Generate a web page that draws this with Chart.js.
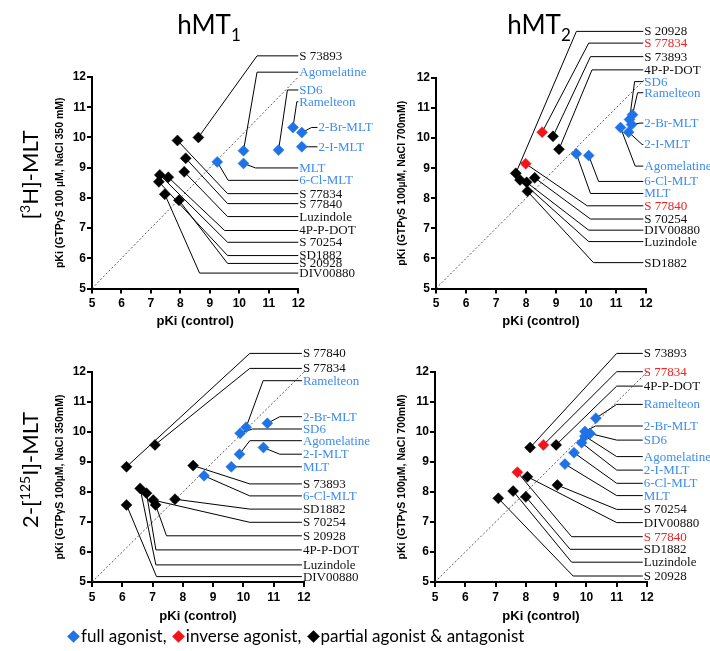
<!DOCTYPE html>
<html>
<head>
<meta charset="utf-8">
<script src="https://cdn.jsdelivr.net/npm/chart.js@4.4.1/dist/chart.umd.min.js"></script>
<style>
html,body{margin:0;padding:0;background:#fff;}
#wrap{position:relative;width:710px;height:651px;overflow:hidden;font-family:Lato,"Open Sans",sans-serif;color:#000;}
#wrap canvas{position:absolute;left:0;top:0;}
.coltitle{position:absolute;font-size:26px;white-space:nowrap;transform:translateX(-50%);line-height:1;}
.coltitle sub{font-size:17px;vertical-align:-7px;line-height:0;}
.rowtitle{position:absolute;font-size:22px;white-space:nowrap;transform:translate(-50%,-50%) rotate(-90deg);line-height:1;}
.rowtitle sup{font-size:14px;vertical-align:8px;line-height:0;}
.legend{position:absolute;left:66px;top:626px;font-size:17px;white-space:nowrap;line-height:20px;}
.dia{display:inline-block;width:9px;height:9px;transform:rotate(45deg);margin:0 3px 1px 3px;}
</style>
</head>
<body>
<div id="wrap">
  <canvas id="c1" width="710" height="651"></canvas>
  <canvas id="c2" width="710" height="651"></canvas>
  <canvas id="c3" width="710" height="651"></canvas>
  <canvas id="c4" width="710" height="651"></canvas>
  <div class="coltitle" style="left:209px;top:11px;">hMT<sub>1</sub></div>
  <div class="coltitle" style="left:539px;top:11px;">hMT<sub>2</sub></div>
  <div class="rowtitle" style="left:30px;top:175px;">[<sup>3</sup>H]-MLT</div>
  <div class="rowtitle" style="left:30px;top:470px;">2-[<sup>125</sup>I]-MLT</div>
  <div class="legend"><span class="dia" style="background:#1f73e6"></span>full agonist, <span class="dia" style="background:#f2141b"></span>inverse agonist, <span class="dia" style="background:#000"></span>partial agonist &amp; antagonist</div>
</div>
<script>
// ---------------- DATA ----------------
const compounds = ['MLT','2-I-MLT','2-Br-MLT','6-Cl-MLT','Agomelatine','Ramelteon','SD6','S 73893','S 77834','S 77840','Luzindole','4P-P-DOT','S 70254','SD1882','S 20928','DIV00880'];
const kindMT1 = ['full','full','full','full','full','full','full','partial','partial','partial','partial','partial','partial','partial','partial','partial'];
const kindMT2 = ['full','full','full','full','full','full','full','partial','inverse','inverse','partial','partial','partial','partial','partial','partial'];

// hMT1, [3H]-MLT, NaCl 350 mM
const mt1H3Control = [10.14,12.12,12.12,9.25,10.14,11.82,11.33,8.61,7.90,8.18,8.13,7.59,7.30,7.27,7.95,7.47];
const mt1H3Gtp     = [9.14,9.69,10.16,9.19,9.56,10.33,9.58,10.00,9.90,9.31,8.86,8.68,8.76,8.53,7.92,8.12];
// hMT2, [3H]-MLT, NaCl 700 mM
const mt2H3Control = [9.68,11.42,11.52,10.09,11.15,11.55,11.45,8.90,8.54,7.99,7.80,9.10,8.29,8.05,7.66,8.02];
const mt2H3Gtp     = [9.48,10.20,10.45,9.42,10.35,10.78,10.62,10.06,10.20,9.15,8.61,9.63,8.68,8.23,8.83,8.53];
// hMT1, 2-[125I]-MLT, NaCl 350 mM
const mt1I125Control = [9.60,10.66,10.79,8.70,9.87,10.09,9.89,8.34,7.08,6.14,6.59,6.80,7.02,7.74,7.10,6.14];
const mt1I125Gtp     = [8.84,9.48,10.29,8.54,9.26,10.16,9.96,8.88,9.57,8.84,8.12,7.96,7.73,7.76,7.57,7.57];
// hMT2, 2-[125I]-MLT, NaCl 700 mM
const mt2I125Control = [9.29,9.84,9.95,9.59,9.95,10.31,10.12,8.14,8.58,7.72,7.58,9.00,9.04,8.00,7.09,8.05];
const mt2I125Gtp     = [8.93,9.64,10.02,9.31,9.86,10.46,9.95,9.48,9.57,8.66,8.03,9.57,8.23,7.84,7.79,8.51];

const axisTicks = [5,6,7,8,9,10,11,12];

// ---------------- LABEL LAYOUT (data units) ----------------
const p1LabelY = [8.99,9.69,10.33,8.58,12.16,11.18,11.57,12.70,8.14,7.81,7.38,6.92,6.53,6.09,5.83,5.51];
const p1ElbowX = [10.55,12.35,12.45,9.62,10.6,11.95,11.63,10.6,9.6,9.6,9.6,9.5,9.6,9.6,9.6,8.65];
const p1LabelX = [12,12.65,12.65,12,12,12,12,12,12,12,12,12,12,12,12,12];

const p2LabelY = [8.16,9.79,10.50,8.56,9.07,11.51,11.88,12.71,13.16,7.75,6.56,12.27,7.31,5.86,13.55,6.94];
const p2ElbowX = [10.15,11.87,11.8,10.42,11.64,11.72,11.62,10.15,10.09,10.04,10.09,10.2,10.15,10.25,9.68,10.09];
const p2LabelX = 11.91;

const p3LabelY = [8.84,9.26,10.51,7.87,9.71,11.71,10.10,8.27,12.12,12.62,5.57,6.07,6.99,7.43,6.54,5.18];
const p3ElbowX = [9.8,11.2,11.2,10.21,10.21,10.65,10.3,10.21,10.21,10.21,7.11,7.11,10.21,10.21,7.46,7.13];
const p3LabelX = 11.93;

const p4LabelY = [7.88,8.73,10.20,8.29,9.18,10.92,9.73,12.62,12.01,6.51,5.66,11.53,7.42,6.09,5.20,6.98];
const p4ElbowX = [11.0,11.0,10.3,11.0,11.0,11.0,11.0,11.0,11.0,9.51,9.51,11.0,11.0,9.46,9.56,11.0];
const p4LabelX = 11.86;

// ---------------- STYLE ----------------
const kindColor = {full:'#1f73e6', inverse:'#f2141b', partial:'#000000'};
const textColor = {full:'#3d8cf0', inverse:'#ee2424', partial:'#111111'};
const SANS = '"Liberation Sans", Arial, sans-serif';
const SERIF = '"Liberation Serif", "Times New Roman", serif';

const panels = [
  {id:'c1', ctrl:mt1H3Control, gtp:mt1H3Gtp, kind:kindMT1, labelY:p1LabelY, elbowX:p1ElbowX, labelX:p1LabelX,
   yTitle:'pKi (GTPγS 100 µM, NaCl 350 mM)', area:{l:92,r:298.3,t:77,b:288.5}, yTitleX:60, xTitleY:321},
  {id:'c2', ctrl:mt2H3Control, gtp:mt2H3Gtp, kind:kindMT2, labelY:p2LabelY, elbowX:p2ElbowX, labelX:p2LabelX,
   yTitle:'pKi (GTPγS 100µM, NaCl 700mM)', area:{l:436,r:646,t:78,b:288.5}, yTitleX:402, xTitleY:321},
  {id:'c3', ctrl:mt1I125Control, gtp:mt1I125Gtp, kind:kindMT1, labelY:p3LabelY, elbowX:p3ElbowX, labelX:p3LabelX,
   yTitle:'pKi (GTPγS 100µM, NaCl 350mM)', area:{l:92,r:304,t:372,b:582}, yTitleX:60, xTitleY:616},
  {id:'c4', ctrl:mt2I125Control, gtp:mt2I125Gtp, kind:kindMT2, labelY:p4LabelY, elbowX:p4ElbowX, labelX:p4LabelX,
   yTitle:'pKi (GTPγS 100µM, NaCl 700mM)', area:{l:435,r:647,t:372,b:582}, yTitleX:402, xTitleY:616}
];

function leaderPlugin(p){
  const lxOf = i => Array.isArray(p.labelX) ? p.labelX[i] : p.labelX;
  return {
    id:'leaders_'+p.id,
    beforeDatasetsDraw(chart){
      const {ctx, scales:{x,y}} = chart;
      ctx.save();
      ctx.strokeStyle = '#000';
      ctx.lineWidth = 1;
      compounds.forEach((c,i)=>{
        const px = x.getPixelForValue(p.ctrl[i]), py = y.getPixelForValue(p.gtp[i]);
        const ex = x.getPixelForValue(p.elbowX[i]), ly = y.getPixelForValue(p.labelY[i]);
        const lx = x.getPixelForValue(lxOf(i));
        ctx.beginPath();
        ctx.moveTo(px,py);
        ctx.lineTo(ex,ly);
        ctx.lineTo(lx,ly);
        ctx.stroke();
      });
      ctx.restore();
    },
    afterDatasetsDraw(chart){
      const {ctx, scales:{x,y}} = chart;
      ctx.save();
      ctx.font = '13px ' + SERIF;
      ctx.textBaseline = 'middle';
      ctx.textAlign = 'left';
      compounds.forEach((c,i)=>{
        const ly = y.getPixelForValue(p.labelY[i]);
        const lx = x.getPixelForValue(lxOf(i));
        ctx.fillStyle = textColor[p.kind[i]];
        ctx.fillText(c, lx+1, ly+0.5);
      });
      ctx.restore();
    }
  };
}

function makeChart(p){
  const W = 710, H = 651;
  const yFont = {family:SANS, size:10.5, weight:'bold'};
  const xFont = {family:SANS, size:13, weight:'bold'};
  const tickFont = {family:SANS, size:12, weight:'bold'};
  const scaleLeft = p.yTitleX - yFont.size*1.2/2;
  const scaleBottom = p.xTitleY + xFont.size*1.2/2;
  const datasets = [];
  ['full','inverse','partial'].forEach(k=>{
    const pts = [];
    compounds.forEach((c,i)=>{ if(p.kind[i]===k) pts.push({x:p.ctrl[i], y:p.gtp[i]}); });
    if(pts.length) datasets.push({label:k, data:pts, pointStyle:'rectRot', pointRadius:5.5, pointHoverRadius:5.5,
      backgroundColor:kindColor[k], borderColor:kindColor[k], borderWidth:0.5, clip:false, order:1});
  });
  datasets.push({type:'line', label:'identity', data:[{x:5,y:5},{x:12,y:12}], borderColor:'#333',
    borderWidth:0.8, borderDash:[2,2], pointRadius:0, fill:false, order:10});
  const common = (fitFn) => ({
    type:'linear', min:5, max:12,
    afterBuildTicks(s){ s.ticks = axisTicks.map(v=>({value:v})); },
    grid:{display:true, drawOnChartArea:false, drawTicks:true, tickLength:5, color:'#000', lineWidth:2},
    border:{display:true, color:'#000', width:2},
    afterFit: fitFn
  });
  new Chart(document.getElementById(p.id), {
    type:'scatter',
    data:{datasets},
    options:{
      responsive:false, animation:false, devicePixelRatio:1,
      layout:{padding:{left:scaleLeft, right:W-p.area.r, top:p.area.t, bottom:H-scaleBottom}},
      plugins:{legend:{display:false}, tooltip:{enabled:false}},
      scales:{
        x:Object.assign(common(s=>{ s.height = scaleBottom - p.area.b; }), {
          position:'bottom',
          ticks:{color:'#000', font:tickFont, padding:3, maxRotation:0, autoSkip:false},
          title:{display:true, text:'pKi (control)', color:'#000', font:xFont, padding:0}
        }),
        y:Object.assign(common(s=>{ s.width = p.area.l - scaleLeft; }), {
          position:'left',
          ticks:{color:'#000', font:tickFont, padding:1, autoSkip:false},
          title:{display:true, text:p.yTitle, color:'#000', font:yFont, padding:0}
        })
      }
    },
    plugins:[leaderPlugin(p)]
  });
}
panels.forEach(makeChart);
</script>
</body>
</html>
